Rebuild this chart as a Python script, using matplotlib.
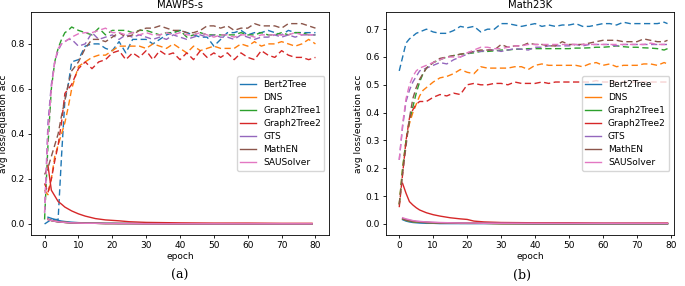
import matplotlib
matplotlib.use("Agg")
import matplotlib.pyplot as plt

models = ["Bert2Tree", "DNS", "Graph2Tree1", "Graph2Tree2", "GTS", "MathEN", "SAUSolver"]
colors = ["#1f77b4", "#ff7f0e", "#2ca02c", "#d62728", "#9467bd", "#8c564b", "#e377c2"]

# ---------- epochs ----------
acc_epochs_mawps = [0, 1, 2, 3, 4, 5, 6, 7, 8,
                    10, 12, 14, 16, 18, 20, 22, 24, 26, 28,
                    30, 32, 34, 36, 38, 40, 42, 44, 46, 48,
                    50, 52, 54, 56, 58, 60, 62, 64, 66, 68,
                    70, 72, 74, 76, 78, 80]
acc_epochs_math23k = [0, 1, 2, 3, 4, 5, 6, 7, 8,
                      10, 12, 14, 16, 18, 20, 22, 24, 26, 28,
                      30, 32, 34, 36, 38, 40, 42, 44, 46, 48,
                      50, 52, 54, 56, 58, 60, 62, 64, 66, 68,
                      70, 72, 74, 76, 78, 79]
loss_epochs = [1, 2, 3, 4, 5, 6, 8, 10, 12, 15, 18, 20, 22, 25, 30, 40, 50, 60, 70, 79]

# ---------- MAWPS-s equation accuracy ----------
mawps_acc_bert2tree = [0.00, 0.01, 0.02, 0.02, 0.02, 0.30, 0.55, 0.62, 0.72,
                       0.73, 0.79, 0.80, 0.80, 0.78, 0.77, 0.81, 0.76, 0.82, 0.82,
                       0.82, 0.80, 0.82, 0.84, 0.85, 0.86, 0.85, 0.84, 0.83, 0.83,
                       0.79, 0.82, 0.85, 0.85, 0.86, 0.84, 0.85, 0.85, 0.86, 0.85,
                       0.84, 0.86, 0.85, 0.85, 0.85, 0.85]
mawps_acc_dns = [0.15, 0.13, 0.20, 0.30, 0.35, 0.40, 0.45, 0.52, 0.60,
                 0.70, 0.72, 0.74, 0.75, 0.75, 0.77, 0.79, 0.79, 0.79, 0.79,
                 0.78, 0.80, 0.79, 0.78, 0.80, 0.78, 0.76, 0.79, 0.77, 0.78,
                 0.79, 0.78, 0.78, 0.78, 0.80, 0.79, 0.81, 0.79, 0.80, 0.80,
                 0.81, 0.80, 0.79, 0.80, 0.82, 0.80]
mawps_acc_graph2tree1 = [0.02, 0.35, 0.60, 0.72, 0.78, 0.82, 0.85, 0.86, 0.875,
                         0.86, 0.85, 0.84, 0.87, 0.84, 0.86, 0.86, 0.86, 0.85, 0.86,
                         0.86, 0.85, 0.84, 0.85, 0.85, 0.86, 0.83, 0.84, 0.85, 0.84,
                         0.84, 0.84, 0.84, 0.84, 0.85, 0.84, 0.84, 0.85, 0.84, 0.84,
                         0.85, 0.84, 0.85, 0.85, 0.84, 0.84]
mawps_acc_graph2tree2 = [0.18, 0.14, 0.20, 0.28, 0.35, 0.45, 0.58, 0.60, 0.62,
                         0.69, 0.72, 0.69, 0.72, 0.73, 0.76, 0.77, 0.73, 0.76, 0.74,
                         0.77, 0.73, 0.77, 0.75, 0.76, 0.73, 0.76, 0.73, 0.77, 0.74,
                         0.76, 0.74, 0.76, 0.73, 0.76, 0.74, 0.73, 0.77, 0.75, 0.74,
                         0.77, 0.75, 0.74, 0.74, 0.73, 0.74]
mawps_acc_gts = [0.05, 0.45, 0.62, 0.72, 0.77, 0.80, 0.81, 0.82, 0.82,
                 0.79, 0.80, 0.85, 0.82, 0.83, 0.84, 0.82, 0.84, 0.83, 0.84,
                 0.83, 0.82, 0.83, 0.82, 0.84, 0.83, 0.82, 0.83, 0.84, 0.83,
                 0.84, 0.83, 0.83, 0.82, 0.84, 0.83, 0.82, 0.83, 0.83, 0.84,
                 0.83, 0.84, 0.83, 0.84, 0.84, 0.84]
mawps_acc_mathen = [0.22, 0.25, 0.30, 0.35, 0.40, 0.48, 0.55, 0.62, 0.68,
                    0.72, 0.78, 0.82, 0.82, 0.81, 0.83, 0.85, 0.83, 0.84, 0.86,
                    0.87, 0.87, 0.88, 0.87, 0.86, 0.86, 0.85, 0.85, 0.86, 0.88,
                    0.88, 0.87, 0.88, 0.86, 0.87, 0.87, 0.89, 0.88, 0.88, 0.88,
                    0.87, 0.89, 0.89, 0.89, 0.88, 0.87]
mawps_acc_sausolver = [0.05, 0.40, 0.60, 0.72, 0.78, 0.80, 0.81, 0.82, 0.83,
                       0.845, 0.85, 0.85, 0.86, 0.87, 0.85, 0.85, 0.84, 0.85, 0.84,
                       0.85, 0.84, 0.84, 0.85, 0.84, 0.85, 0.84, 0.84, 0.85, 0.84,
                       0.83, 0.84, 0.84, 0.83, 0.84, 0.84, 0.83, 0.84, 0.84, 0.84,
                       0.84, 0.84, 0.85, 0.84, 0.84, 0.84]

# ---------- MAWPS-s average loss ----------
mawps_loss_bert2tree = [0.030, 0.025, 0.020, 0.016, 0.013, 0.011, 0.008, 0.006, 0.005, 0.004,
                        0.003, 0.003, 0.002, 0.002, 0.002, 0.001, 0.001, 0.001, 0.001, 0.001]
mawps_loss_dns = [0.020, 0.015, 0.012, 0.010, 0.008, 0.007, 0.005, 0.004, 0.003, 0.003,
                  0.002, 0.002, 0.002, 0.002, 0.001, 0.001, 0.001, 0.001, 0.001, 0.001]
mawps_loss_graph2tree1 = [0.020, 0.015, 0.012, 0.010, 0.008, 0.007, 0.005, 0.004, 0.003, 0.003,
                          0.002, 0.002, 0.002, 0.002, 0.001, 0.001, 0.001, 0.001, 0.001, 0.001]
mawps_loss_graph2tree2 = [0.260, 0.150, 0.125, 0.100, 0.088, 0.075, 0.058, 0.045, 0.035, 0.024,
                          0.018, 0.016, 0.014, 0.010, 0.007, 0.005, 0.004, 0.004, 0.003, 0.003]
mawps_loss_gts = [0.020, 0.016, 0.012, 0.010, 0.008, 0.007, 0.005, 0.004, 0.003, 0.003,
                  0.002, 0.002, 0.002, 0.002, 0.001, 0.001, 0.001, 0.001, 0.001, 0.001]
mawps_loss_mathen = [0.022, 0.016, 0.012, 0.010, 0.008, 0.007, 0.005, 0.004, 0.003, 0.003,
                     0.002, 0.002, 0.002, 0.002, 0.002, 0.001, 0.001, 0.001, 0.001, 0.001]
mawps_loss_sausolver = [0.020, 0.015, 0.012, 0.010, 0.008, 0.007, 0.005, 0.004, 0.003, 0.003,
                        0.002, 0.002, 0.002, 0.002, 0.001, 0.001, 0.001, 0.001, 0.001, 0.001]

# ---------- Math23K equation accuracy ----------
m23k_acc_bert2tree = [0.55, 0.60, 0.65, 0.665, 0.675, 0.685, 0.69, 0.695, 0.70,
                      0.69, 0.685, 0.685, 0.695, 0.71, 0.705, 0.71, 0.69, 0.70, 0.70,
                      0.72, 0.72, 0.715, 0.71, 0.715, 0.72, 0.71, 0.715, 0.71, 0.715,
                      0.715, 0.72, 0.71, 0.71, 0.715, 0.72, 0.72, 0.715, 0.725, 0.72,
                      0.72, 0.72, 0.72, 0.72, 0.725, 0.72]
m23k_acc_dns = [0.07, 0.20, 0.30, 0.36, 0.40, 0.43, 0.46, 0.48, 0.49,
                0.51, 0.525, 0.53, 0.54, 0.555, 0.545, 0.54, 0.565, 0.56, 0.56,
                0.56, 0.56, 0.565, 0.565, 0.555, 0.57, 0.575, 0.57, 0.57, 0.57,
                0.57, 0.57, 0.565, 0.575, 0.58, 0.57, 0.575, 0.565, 0.57, 0.57,
                0.57, 0.575, 0.575, 0.57, 0.58, 0.575]
m23k_acc_graph2tree1 = [0.07, 0.20, 0.30, 0.37, 0.42, 0.47, 0.51, 0.54, 0.56,
                        0.58, 0.59, 0.60, 0.605, 0.61, 0.612, 0.615, 0.62, 0.62, 0.622,
                        0.625, 0.625, 0.628, 0.628, 0.63, 0.63, 0.63, 0.63, 0.63, 0.63,
                        0.63, 0.632, 0.632, 0.633, 0.635, 0.635, 0.637, 0.64, 0.637, 0.635,
                        0.635, 0.633, 0.632, 0.63, 0.625, 0.63]
m23k_acc_graph2tree2 = [0.06, 0.18, 0.30, 0.38, 0.41, 0.43, 0.44, 0.44, 0.44,
                        0.455, 0.465, 0.46, 0.47, 0.465, 0.50, 0.505, 0.50, 0.50, 0.505,
                        0.505, 0.50, 0.51, 0.505, 0.505, 0.505, 0.51, 0.505, 0.51, 0.51,
                        0.51, 0.51, 0.51, 0.51, 0.515, 0.51, 0.51, 0.51, 0.51, 0.51,
                        0.51, 0.51, 0.51, 0.51, 0.51, 0.51]
m23k_acc_gts = [0.23, 0.35, 0.44, 0.48, 0.51, 0.53, 0.55, 0.555, 0.56,
                0.57, 0.58, 0.575, 0.59, 0.60, 0.61, 0.62, 0.62, 0.625, 0.625,
                0.62, 0.625, 0.63, 0.628, 0.625, 0.635, 0.635, 0.64, 0.64, 0.64,
                0.64, 0.645, 0.64, 0.645, 0.645, 0.645, 0.645, 0.64, 0.645, 0.645,
                0.645, 0.645, 0.645, 0.645, 0.645, 0.645]
m23k_acc_mathen = [0.07, 0.18, 0.28, 0.38, 0.45, 0.49, 0.52, 0.54, 0.56,
                   0.58, 0.595, 0.60, 0.605, 0.61, 0.615, 0.62, 0.625, 0.625, 0.625,
                   0.645, 0.635, 0.64, 0.64, 0.65, 0.645, 0.645, 0.64, 0.64, 0.655,
                   0.645, 0.645, 0.645, 0.65, 0.655, 0.66, 0.66, 0.66, 0.655, 0.655,
                   0.655, 0.665, 0.66, 0.655, 0.655, 0.66]
m23k_acc_sausolver = [0.23, 0.36, 0.45, 0.50, 0.53, 0.55, 0.56, 0.565, 0.57,
                      0.58, 0.59, 0.60, 0.60, 0.60, 0.615, 0.625, 0.635, 0.635, 0.63,
                      0.63, 0.635, 0.64, 0.64, 0.645, 0.645, 0.645, 0.645, 0.645, 0.645,
                      0.645, 0.645, 0.645, 0.645, 0.645, 0.645, 0.645, 0.645, 0.645, 0.645,
                      0.645, 0.645, 0.65, 0.645, 0.645, 0.645]

# ---------- Math23K average loss ----------
m23k_loss_bert2tree = [0.015, 0.010, 0.007, 0.005, 0.004, 0.003, 0.002, 0.002, 0.001, 0.001,
                       0.001, 0.001, 0.001, 0.001, 0.001, 0.000, 0.000, 0.000, 0.000, 0.000]
m23k_loss_dns = [0.018, 0.013, 0.010, 0.008, 0.007, 0.006, 0.005, 0.004, 0.003, 0.003,
                 0.002, 0.002, 0.002, 0.002, 0.001, 0.001, 0.001, 0.001, 0.001, 0.001]
m23k_loss_graph2tree1 = [0.018, 0.013, 0.010, 0.008, 0.007, 0.006, 0.005, 0.004, 0.003, 0.003,
                         0.002, 0.002, 0.002, 0.002, 0.001, 0.001, 0.001, 0.001, 0.001, 0.001]
m23k_loss_graph2tree2 = [0.145, 0.110, 0.080, 0.068, 0.058, 0.050, 0.040, 0.033, 0.028, 0.022,
                         0.018, 0.016, 0.010, 0.007, 0.005, 0.004, 0.004, 0.003, 0.003, 0.003]
m23k_loss_gts = [0.020, 0.016, 0.013, 0.011, 0.009, 0.008, 0.006, 0.005, 0.004, 0.003,
                 0.003, 0.002, 0.002, 0.002, 0.002, 0.001, 0.001, 0.001, 0.001, 0.001]
m23k_loss_mathen = [0.018, 0.014, 0.011, 0.009, 0.008, 0.007, 0.005, 0.004, 0.003, 0.003,
                    0.002, 0.002, 0.002, 0.002, 0.001, 0.001, 0.001, 0.001, 0.001, 0.001]
m23k_loss_sausolver = [0.022, 0.018, 0.015, 0.012, 0.010, 0.009, 0.007, 0.006, 0.005, 0.004,
                       0.003, 0.003, 0.003, 0.002, 0.002, 0.002, 0.002, 0.002, 0.002, 0.002]

mawps_acc = [mawps_acc_bert2tree, mawps_acc_dns, mawps_acc_graph2tree1, mawps_acc_graph2tree2,
             mawps_acc_gts, mawps_acc_mathen, mawps_acc_sausolver]
mawps_loss = [mawps_loss_bert2tree, mawps_loss_dns, mawps_loss_graph2tree1, mawps_loss_graph2tree2,
              mawps_loss_gts, mawps_loss_mathen, mawps_loss_sausolver]
m23k_acc = [m23k_acc_bert2tree, m23k_acc_dns, m23k_acc_graph2tree1, m23k_acc_graph2tree2,
            m23k_acc_gts, m23k_acc_mathen, m23k_acc_sausolver]
m23k_loss = [m23k_loss_bert2tree, m23k_loss_dns, m23k_loss_graph2tree1, m23k_loss_graph2tree2,
             m23k_loss_gts, m23k_loss_mathen, m23k_loss_sausolver]

FS = 6.5
fig = plt.figure(figsize=(6.85, 2.86), dpi=100)
ax1 = fig.add_axes([0.0453, 0.1783, 0.435, 0.780])
ax2 = fig.add_axes([0.5635, 0.1783, 0.4204, 0.780])

def draw(ax, acc_ep, accs, losses, title, ylim, xlim, yticks):
    for name, c, acc, loss in zip(models, colors, accs, losses):
        ax.plot(loss_epochs, loss, color=c, lw=1.0, label=name)
        ax.plot(acc_ep, acc, color=c, lw=1.0, ls=(0, (4.5, 2.5)))
    ax.set_xlim(*xlim)
    ax.set_ylim(*ylim)
    ax.set_yticks(yticks)
    ax.set_xticks(range(0, 81, 10))
    ax.set_title(title, fontsize=7.2, pad=3)
    ax.set_xlabel("epoch", fontsize=FS, labelpad=1)
    ax.set_ylabel("avg loss/equation acc", fontsize=FS, labelpad=2)
    ax.tick_params(labelsize=FS, length=2.5, width=0.6, pad=2)
    for s in ax.spines.values():
        s.set_linewidth(0.6)
    ax.legend(loc="center right", fontsize=FS, frameon=True, handlelength=1.7,
              borderpad=0.4, labelspacing=0.45, fancybox=True)

draw(ax1, acc_epochs_mawps, mawps_acc, mawps_loss, "MAWPS-s", (-0.049, 0.942), (-4, 84),
     [0.0, 0.2, 0.4, 0.6, 0.8])
draw(ax2, acc_epochs_math23k, m23k_acc, m23k_loss, "Math23K", (-0.04, 0.762), (-3.9, 80.9),
     [0.0, 0.1, 0.2, 0.3, 0.4, 0.5, 0.6, 0.7])

fig.text(180 / 685, 1 - 275 / 286, "(a)", fontsize=9, family="DejaVu Serif", ha="center", va="center")
fig.text(522 / 685, 1 - 275 / 286, "(b)", fontsize=9, family="DejaVu Serif", ha="center", va="center")

fig.savefig("out.png", dpi=100)
